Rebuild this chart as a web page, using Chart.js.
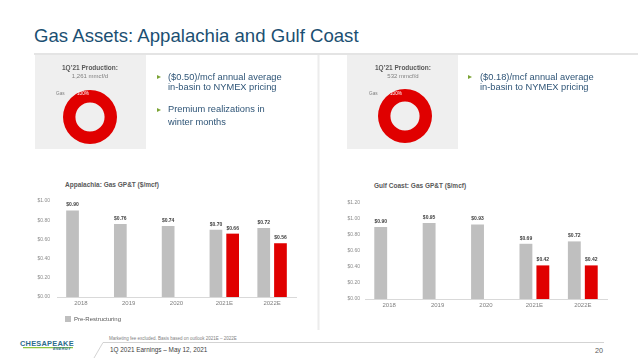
<!DOCTYPE html>
<html><head><meta charset="utf-8">
<script src="https://cdn.jsdelivr.net/npm/chart.js@4.4.1/dist/chart.umd.min.js"></script>
<style>
html,body{margin:0;padding:0;background:#fff;}
body{width:638px;height:359px;position:relative;overflow:hidden;font-family:"Liberation Sans",Arial,sans-serif;}
.t{position:absolute;white-space:nowrap;}
canvas{position:absolute;}
.panel{position:absolute;background:#efefef;}
.tri{position:absolute;width:0;height:0;border-left:4px solid #7ba335;border-top:2.6px solid transparent;border-bottom:2.6px solid transparent;}
</style></head><body>
<div class="panel" style="left:35px;top:55px;width:111px;height:94px;"></div>
<div class="panel" style="left:347px;top:55px;width:111px;height:94px;"></div>
<svg width="638" height="359" style="position:absolute;left:0;top:0;">
  <line x1="34" y1="54" x2="638" y2="54" stroke="#c9c9c9" stroke-width="1"/>
  <line x1="318.5" y1="55" x2="318.5" y2="330" stroke="#ececec" stroke-width="2"/>
  <line x1="103" y1="342.5" x2="604" y2="342.5" stroke="#c8c8c8" stroke-width="0.8"/>
  <line x1="94" y1="358" x2="103" y2="342.5" stroke="#c8c8c8" stroke-width="0.8"/>
  <line x1="23" y1="347.6" x2="73" y2="347.6" stroke="#8dc63f" stroke-width="1.4"/>
</svg>
<div class="tri" style="left:157px;top:75px;"></div>
<div class="tri" style="left:157px;top:108px;"></div>
<div class="tri" style="left:468px;top:75px;"></div>

<canvas id="donutApp" width="54" height="54" style="left:63px;top:90px;"></canvas>
<canvas id="donutGulf" width="54" height="54" style="left:378px;top:89px;"></canvas>
<canvas id="barApp" width="318" height="142" style="left:0px;top:190px;"></canvas>
<canvas id="barGulf" width="318" height="124" style="left:320px;top:190px;"></canvas>

<script>
// ---- data ----
const categories = ['2018', '2019', '2020', '2021E', '2022E'];
const seriesNames = ['Pre-Restructuring', 'Post-Restructuring'];
const appalachiaPre = [0.90, 0.76, 0.74, 0.70, 0.72];
const appalachiaPost = [null, null, null, 0.66, 0.56];
const gulfPre = [0.90, 0.95, 0.93, 0.69, 0.72];
const gulfPost = [null, null, null, 0.42, 0.42];
const appalachiaAxisMax = 1.0;
const gulfAxisMax = 1.2;
const axisStep = 0.2;
const donutLabels = ['Gas'];
const appalachiaMix = [100];
const gulfMix = [100];

const FONT = '"Liberation Sans", Arial, sans-serif';
const GRAY = '#bfbfbf', RED = '#e00000';

// ---- text helper (baseline-positioned) ----
function T(text, x, baseline, size, color, opts) {
  opts = opts || {};
  const d = document.createElement('div');
  d.className = 't';
  d.textContent = text;
  d.style.fontSize = size + 'px';
  d.style.lineHeight = size + 'px';
  d.style.color = color;
  d.style.top = (baseline - 0.8465 * size) + 'px';
  if (opts.bold) d.style.fontWeight = 'bold';
  if (opts.italic) d.style.fontStyle = 'italic';
  if (opts.ls) d.style.letterSpacing = opts.ls + 'px';
  if (opts.center) { d.style.left = (x - 100) + 'px'; d.style.width = '200px'; d.style.textAlign = 'center'; }
  else d.style.left = x + 'px';
  document.body.appendChild(d);
}
const BLUE = '#1b4f72', TXT = '#2f5577';
T('Gas Assets: Appalachia and Gulf Coast', 34, 42.3, 18.6, BLUE);
T('1Q\u201921 Production:', 90, 70.3, 6.5, '#595959', {bold: true, center: true});
T('1,261 mmcf/d', 90, 77.6, 6, '#7f7f7f', {center: true});
T('1Q\u201921 Production:', 403, 70.3, 6.5, '#595959', {bold: true, center: true});
T('532 mmcf/d', 403, 77.6, 6, '#7f7f7f', {center: true});
T('Gas', 56, 96, 4.7, '#7f7f7f');
T('100%', 77, 96, 4.7, '#ffffff');
T('Gas', 369, 96, 4.7, '#7f7f7f');
T('100%', 390, 96, 4.7, '#ffffff');
T('($0.50)/mcf annual average', 168, 80.6, 9.3, TXT);
T('in-basin to NYMEX pricing', 168, 90.6, 9.3, TXT);
T('Premium realizations in', 168, 113.3, 9.3, TXT);
T('winter months', 168, 125.8, 9.3, TXT);
T('($0.18)/mcf annual average', 480, 80.6, 9.3, TXT);
T('in-basin to NYMEX pricing', 480, 90.6, 9.3, TXT);
T('Appalachia: Gas GP&T ($/mcf)', 65, 188, 6.5, '#595959', {bold: true});
T('Gulf Coast: Gas GP&T ($/mcf)', 374, 189, 6.5, '#595959', {bold: true});
T('Marketing fee excluded. Basis based on outlook 2021E \u2013 2022E', 109, 340.6, 4.5, '#7f7f7f');
T('1Q 2021 Earnings \u2013 May 12, 2021', 110, 352.4, 6.4, '#404040');
T('20', 595, 352.6, 7.2, '#595959');
T('CHESAPEAKE', 20, 346.3, 7.4, '#2b6c8c', {bold: true, ls: 0.25});
T('ENERGY', 53, 351.3, 3.8, '#2b6c8c', {bold: true, italic: true, ls: 0.3});

// ---- charts ----
const valueLabels = {
  id: 'valueLabels',
  afterDatasetsDraw(chart) {
    const ctx = chart.ctx;
    ctx.save();
    ctx.font = 'bold 5px ' + FONT;
    ctx.fillStyle = '#404040';
    ctx.textAlign = 'center';
    ctx.textBaseline = 'bottom';
    chart.data.datasets.forEach((ds, i) => {
      chart.getDatasetMeta(i).data.forEach((bar, j) => {
        const v = ds.data[j];
        if (v == null) return;
        ctx.fillText('$' + v.toFixed(2), bar.x, bar.y - 3);
      });
    });
    ctx.restore();
  }
};

function barChart(id, pre, post, max, o) {
  return new Chart(document.getElementById(id), {
    type: 'bar',
    data: {
      labels: categories,
      datasets: [
        {label: seriesNames[0], data: pre, backgroundColor: GRAY, categoryPercentage: 0.7, barPercentage: 0.76},
        {label: seriesNames[1], data: post, backgroundColor: RED, categoryPercentage: 0.7, barPercentage: 0.76}
      ]
    },
    options: {
      responsive: false, animation: false, events: [],
      layout: {padding: o.padding},
      plugins: {
        legend: {
          display: o.legend, position: 'bottom', align: 'start', fullSize: false,
          labels: {boxWidth: 6, boxHeight: 6, padding: 8, color: '#595959',
            font: {size: 6, family: FONT}, filter: (item) => item.datasetIndex === 0}
        },
        tooltip: {enabled: false},
        title: {display: false}
      },
      scales: {
        x: {
          grid: {display: false, drawTicks: false},
          border: {color: '#d9d9d9'},
          ticks: {color: '#7f7f7f', font: {size: 6, family: FONT}, padding: 3, maxRotation: 0},
          afterFit: (s) => { s.height = o.xh; }
        },
        y: {
          min: 0, max: max,
          grid: {display: false, drawTicks: false},
          border: {display: false},
          ticks: {stepSize: axisStep, color: '#8c8c8c', font: {size: 5, family: FONT}, padding: o.yp,
            callback: (v) => '$' + Number(v).toFixed(2)},
          afterFit: (s) => { s.width = o.yw; }
        }
      }
    },
    plugins: [valueLabels]
  });
}

barChart('barApp', appalachiaPre, appalachiaPost, appalachiaAxisMax,
  {padding: {top: 11, right: 22, left: 0, bottom: 0}, xh: 11, yw: 57, yp: 7, legend: true});
barChart('barGulf', gulfPre, gulfPost, gulfAxisMax,
  {padding: {top: 13, right: 31, left: 0, bottom: 0}, xh: 15, yw: 45, yp: 5, legend: false});

function donut(id, data) {
  return new Chart(document.getElementById(id), {
    type: 'doughnut',
    data: {labels: donutLabels, datasets: [{data: data, backgroundColor: [RED], borderWidth: 0}]},
    options: {
      responsive: false, animation: false, events: [], cutout: '54%',
      plugins: {legend: {display: false}, tooltip: {enabled: false}}
    }
  });
}
donut('donutApp', appalachiaMix);
donut('donutGulf', gulfMix);
</script>
</body></html>
